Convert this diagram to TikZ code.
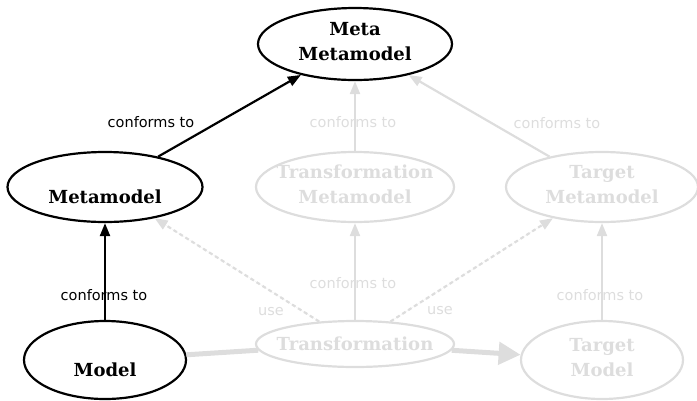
\documentclass[tikz,border=0pt]{standalone}
\usepackage{fontspec}
\setmainfont{DejaVu Serif}
\setsansfont{DejaVu Sans}
\usetikzlibrary{shapes.geometric,arrows.meta}
\definecolor{faded}{RGB}{221,221,221}
% line struts so two-line labels sit like full text lines
\newcommand\topln{\rule{0pt}{15pt}}
\newcommand\botln{\rule[-7pt]{0pt}{7pt}}
\tikzset{
  model/.style={ellipse, draw, line width=2.2pt, inner ysep=0pt, inner xsep=-40pt,
    align=center, font=\fontsize{18}{25}\selectfont\bfseries},
  dim/.style={draw=faded, text=faded},
  rel/.style={line width=2.2pt, -{Triangle[length=13pt,width=10pt]}},
  uses/.style={rel, dash pattern=on 4pt off 3pt},
  flow/.style={line width=5pt, draw=faded},
  lbl/.style={inner sep=0pt, font=\sffamily\fontsize{14.5}{17}\selectfont},
}
\begin{document}
\begin{tikzpicture}[x=1pt,y=-1pt]
\useasboundingbox (0,0) rectangle (697,400);

% models and metamodels
\node[model, minimum width=194pt, minimum height=72pt] (mm) at (355,44) {\topln Meta\\Metamodel\botln};
\node[model, minimum width=195pt, minimum height=70pt] (meta) at (105,187) {\topln\\Metamodel\botln};
\node[model, dim, minimum width=198pt, minimum height=70pt] (tmeta) at (355,187) {\topln Transformation\\Metamodel\botln};
\node[model, dim, minimum width=192pt, minimum height=70pt] (tgmeta) at (602,187) {\topln Target\\Metamodel\botln};
\node[model, minimum width=162pt, minimum height=78pt] (src) at (105,360) {\topln\\Model\botln};
\node[model, dim, minimum width=198pt, minimum height=46pt] (trans) at (355,344) {Transformation};
\node[model, dim, minimum width=162pt, minimum height=78pt] (tgt) at (602,360) {\topln Target\\Model\botln};

% conformance relations
\draw[rel] (meta) -- (mm);
\draw[rel] (src) -- (meta);
\draw[rel, draw=faded, fill=faded] (tmeta) -- (mm);
\draw[rel, draw=faded, fill=faded] (tgmeta) -- (mm);
\draw[rel, draw=faded, fill=faded] (trans) -- (tmeta);
\draw[rel, draw=faded, fill=faded] (tgt) -- (tgmeta);

% transformation uses both metamodels
\draw[uses, draw=faded, fill=faded] (trans) -- (meta);
\draw[uses, draw=faded, fill=faded] (trans) -- (tgmeta);

% model flow through the transformation
\draw[flow] (src) -- (trans);
\draw[flow, -{Triangle[length=22pt,width=22pt]}, fill=faded] (trans) -- (tgt);

% relation labels
\node[lbl] (l1) at (151,122) {conforms to};
\node[lbl] (l2) at (104,295) {conforms to};
\node[lbl, text=faded] (l3) at (353,122) {conforms to};
\node[lbl, text=faded] (l4) at (557,123) {conforms to};
\node[lbl, text=faded] (l5) at (353,283) {conforms to};
\node[lbl, text=faded] (l6) at (600,295) {conforms to};
\node[lbl, text=faded] (l7) at (271,312) {use};
\node[lbl, text=faded] (l8) at (440,311) {use};
\end{tikzpicture}
\end{document}
